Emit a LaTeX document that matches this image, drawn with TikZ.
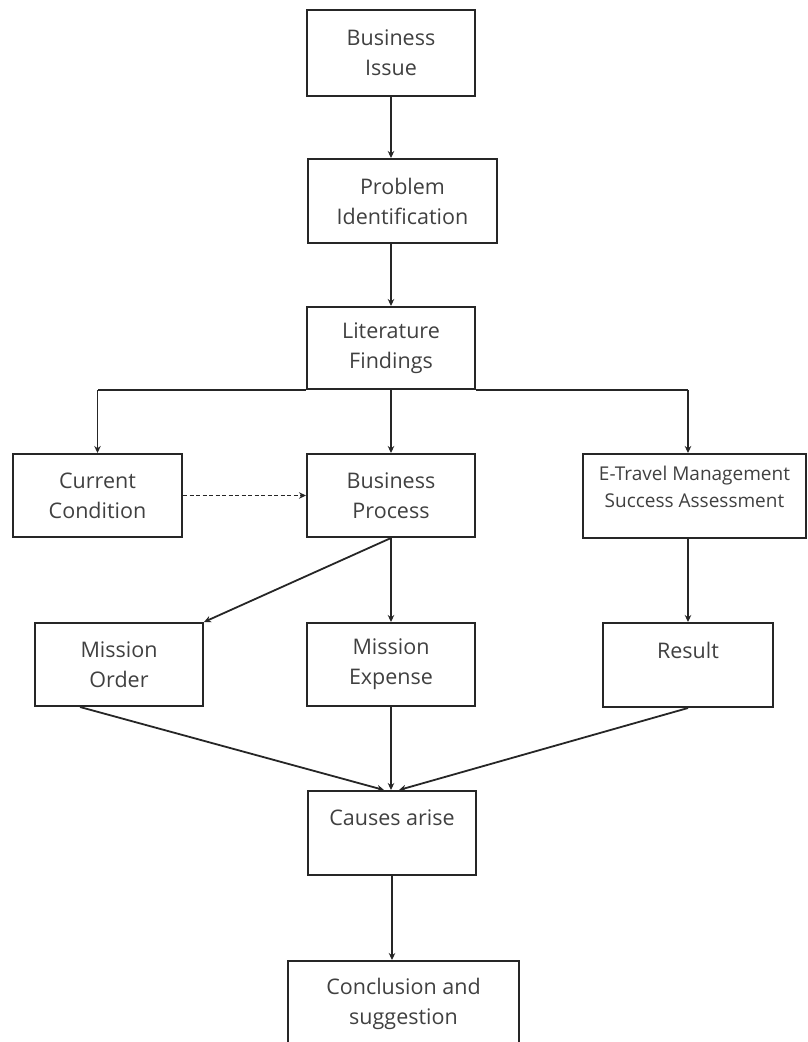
\documentclass[tikz,border=0pt]{standalone}
\usepackage{fontspec}
\setmainfont{Open Sans}
\usetikzlibrary{arrows.meta}
\definecolor{linec}{HTML}{262626}
\definecolor{textc}{HTML}{404040}
\tikzset{
  x=1pt, y=-1pt,
  box/.style={draw=linec, line width=2pt, inner sep=0pt, align=center,
    text=textc, font=\fontsize{21.5}{30}\selectfont},
  conn/.style={draw=linec, line width=1.8pt, -{Stealth[length=7pt,width=6.5pt]}},
  plain/.style={draw=linec, line width=1.8pt},
}
\begin{document}
\begin{tikzpicture}
\useasboundingbox (0,0) rectangle (807,1042);
\node[box, minimum width=168pt, minimum height=86pt] (BI) at (391,53) {Business\\Issue};
\node[box, minimum width=189pt, minimum height=84pt] (PI) at (402.5,201) {Problem\\Identification};
\node[box, minimum width=168pt, minimum height=82pt] (LF) at (391,348) {Literature\\Findings};
\node[box, minimum width=169pt, minimum height=83pt] (CC) at (97.5,495.5) {Current\\Condition};
\node[box, minimum width=168pt, minimum height=83pt] (BP) at (391,495.5) {Business\\Process};
\node[box, minimum width=223pt, minimum height=84pt, font=\fontsize{19}{27}\selectfont] (ET) at (694.5,496) {E-Travel Management\\Success Assessment\\[-8pt]\mbox{}};
\node[box, minimum width=168pt, minimum height=83pt] (MO) at (119,664.5) {Mission\\Order};
\node[box, minimum width=168pt, minimum height=83pt] (ME) at (391,664.5) {Mission\\Expense};
\node[box, minimum width=170pt, minimum height=84pt] (RE) at (688,665) {Result\\\mbox{}};
\node[box, minimum width=168pt, minimum height=84pt] (CA) at (392,833) {Causes arise\\\mbox{}};
\node[box, minimum width=231pt, minimum height=86pt] (CS) at (403.5,1004) {Conclusion and\\suggestion};

\draw[conn] (BI.south) -- (BI.south |- PI.north);
\draw[conn] (PI.south -| BI.south) -- (LF.north);
\draw[plain] (LF.south west) -- (LF.south west -| CC.north);
\draw[conn] (LF.south west -| CC.north) -- (CC.north);
\draw[conn] (LF.south) -- (BP.north);
\draw[plain] (LF.south east) -- (LF.south east -| RE.north);
\draw[conn] (LF.south east -| RE.north) -- (ET.north -| RE.north);
\draw[conn, dash pattern=on 4pt off 2.5pt] (CC.east) -- (BP.west);
\draw[conn] (BP.south) -- (MO.north east);
\draw[conn] (BP.south) -- (ME.north);
\draw[conn] (ET.south -| RE.north) -- (RE.north);
\draw[conn] ([xshift=-39pt]MO.south) -- ([xshift=-8pt]CA.north);
\draw[conn] (ME.south) -- (ME.south |- CA.north);
\draw[conn] (RE.south) -- ([xshift=7pt]CA.north);
\draw[conn] (CA.south) -- (CA.south |- CS.north);
\end{tikzpicture}
\end{document}
